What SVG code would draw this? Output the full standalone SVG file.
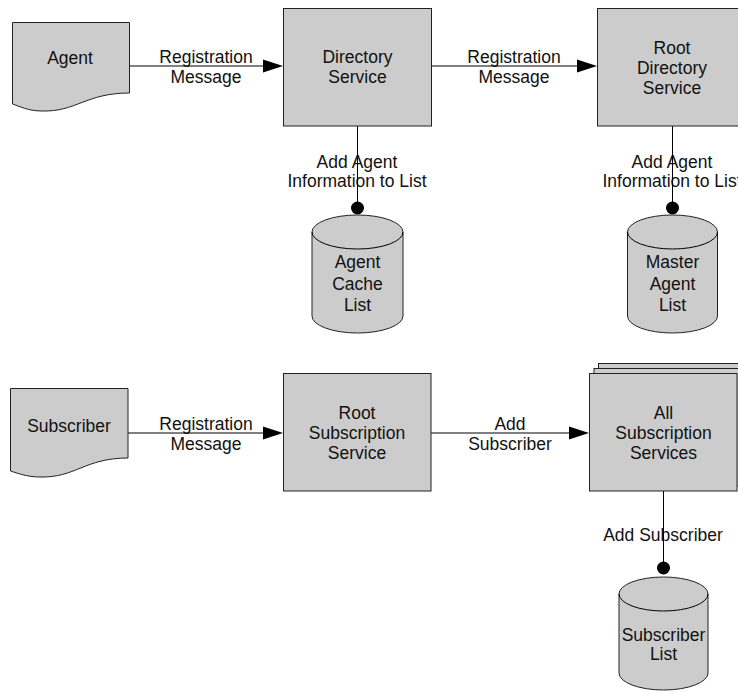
<svg xmlns="http://www.w3.org/2000/svg" width="738" height="692" viewBox="0 0 738 692">
  <defs>
    <style>
      .shape { fill: #cccccc; stroke: #222222; stroke-width: 1; }
      .edge { fill: none; stroke: #000000; stroke-width: 1; }
      .head { fill: #000000; stroke: none; }
      .dot { fill: #000000; }
      text { font-family: "Liberation Sans", Arial, sans-serif; font-size: 17.5px; fill: #111111; text-anchor: middle; }
    </style>
  </defs>
  <rect width="738" height="692" fill="#ffffff"/>

  <!-- connectors -->
  <g id="connectors">
    <!-- Agent -> Directory Service -->
    <line class="edge" x1="130" y1="66" x2="264" y2="66"/>
    <polygon class="head" points="263,59.5 283,66 263,72.5"/>
    <text x="206" y="63">Registration</text>
    <text x="206" y="82.5">Message</text>

    <!-- Directory Service -> Root Directory Service -->
    <line class="edge" x1="432" y1="66" x2="578" y2="66"/>
    <polygon class="head" points="577,59.5 597,66 577,72.5"/>
    <text x="514" y="63">Registration</text>
    <text x="514" y="82.5">Message</text>

    <!-- Directory Service -> Agent Cache List -->
    <text x="357" y="168">Add Agent</text>
    <text x="357" y="187">Information to List</text>
    <line class="edge" x1="357.5" y1="126" x2="357.5" y2="208"/>
    <circle class="dot" cx="357.5" cy="208" r="6.5"/>

    <!-- Root Directory Service -> Master Agent List -->
    <text x="672" y="168">Add Agent</text>
    <text x="672" y="187">Information to List</text>
    <line class="edge" x1="672.5" y1="126" x2="672.5" y2="208"/>
    <circle class="dot" cx="672.5" cy="208" r="6.5"/>

    <!-- Subscriber -> Root Subscription Service -->
    <line class="edge" x1="128" y1="433" x2="264" y2="433"/>
    <polygon class="head" points="263,426.5 283,433 263,439.5"/>
    <text x="206" y="430">Registration</text>
    <text x="206" y="450">Message</text>

    <!-- Root Subscription Service -> All Subscription Services -->
    <line class="edge" x1="431" y1="433" x2="570" y2="433"/>
    <polygon class="head" points="569,426.5 589,433 569,439.5"/>
    <text x="510" y="429.5">Add</text>
    <text x="510" y="449.5">Subscriber</text>

    <!-- All Subscription Services -> Subscriber List -->
    <text x="663" y="541">Add Subscriber</text>
    <line class="edge" x1="663.5" y1="491" x2="663.5" y2="568"/>
    <circle class="dot" cx="663.5" cy="568" r="6.5"/>
  </g>

  <!-- Agent (document) -->
  <g id="agent">
    <path class="shape" d="M12.5,22.5 H129.5 V93 C86,93 76,112 42,111 C28,111 19,106 12.5,104 Z"/>
    <text x="70" y="64">Agent</text>
  </g>

  <!-- Directory Service -->
  <g id="directory-service">
    <rect class="shape" x="283.5" y="8.5" width="148" height="117.5"/>
    <text x="357.5" y="63">Directory</text>
    <text x="357.5" y="83">Service</text>
  </g>

  <!-- Root Directory Service -->
  <g id="root-directory-service">
    <rect class="shape" x="597.5" y="8.5" width="148" height="117.5"/>
    <text x="672" y="54">Root</text>
    <text x="672" y="74">Directory</text>
    <text x="672" y="94">Service</text>
  </g>

  <!-- Agent Cache List (database) -->
  <g id="agent-cache-list">
    <path class="shape" d="M312,232 A45.5,17 0 0 1 403,232 V316 A45.5,17 0 0 1 312,316 Z"/>
    <path class="edge" d="M312,232 A45.5,17 0 0 0 403,232" stroke="#222222"/>
    <text x="357.5" y="268">Agent</text>
    <text x="357.5" y="290">Cache</text>
    <text x="357.5" y="311">List</text>
  </g>

  <!-- Master Agent List (database) -->
  <g id="master-agent-list">
    <path class="shape" d="M627.5,232 A45,17 0 0 1 717.5,232 V316 A45,17 0 0 1 627.5,316 Z"/>
    <path class="edge" d="M627.5,232 A45,17 0 0 0 717.5,232" stroke="#222222"/>
    <text x="672.5" y="268">Master</text>
    <text x="672.5" y="290">Agent</text>
    <text x="672.5" y="311">List</text>
  </g>

  <!-- Subscriber (document) -->
  <g id="subscriber">
    <path class="shape" d="M10.5,388.5 H128 V458 C85,458 75,478 40,477 C27,477 17,473 10.5,471 Z"/>
    <text x="69" y="432">Subscriber</text>
  </g>

  <!-- Root Subscription Service -->
  <g id="root-subscription-service">
    <rect class="shape" x="283.5" y="373.5" width="147.5" height="117.5"/>
    <text x="357" y="419">Root</text>
    <text x="357" y="439">Subscription</text>
    <text x="357" y="459">Service</text>
  </g>

  <!-- All Subscription Services (stacked) -->
  <g id="all-subscription-services">
    <rect class="shape" x="598.5" y="363.5" width="148" height="117.5"/>
    <rect class="shape" x="594" y="368.5" width="148" height="117.5"/>
    <rect class="shape" x="589.5" y="373.5" width="147.5" height="117.5"/>
    <text x="663.5" y="419">All</text>
    <text x="663.5" y="439">Subscription</text>
    <text x="663.5" y="459">Services</text>
  </g>

  <!-- Subscriber List (database) -->
  <g id="subscriber-list">
    <path class="shape" d="M619,594 A44.5,17 0 0 1 708,594 V673 A44.5,17 0 0 1 619,673 Z"/>
    <path class="edge" d="M619,594 A44.5,17 0 0 0 708,594" stroke="#222222"/>
    <text x="663.5" y="641">Subscriber</text>
    <text x="663.5" y="660">List</text>
  </g>
</svg>
